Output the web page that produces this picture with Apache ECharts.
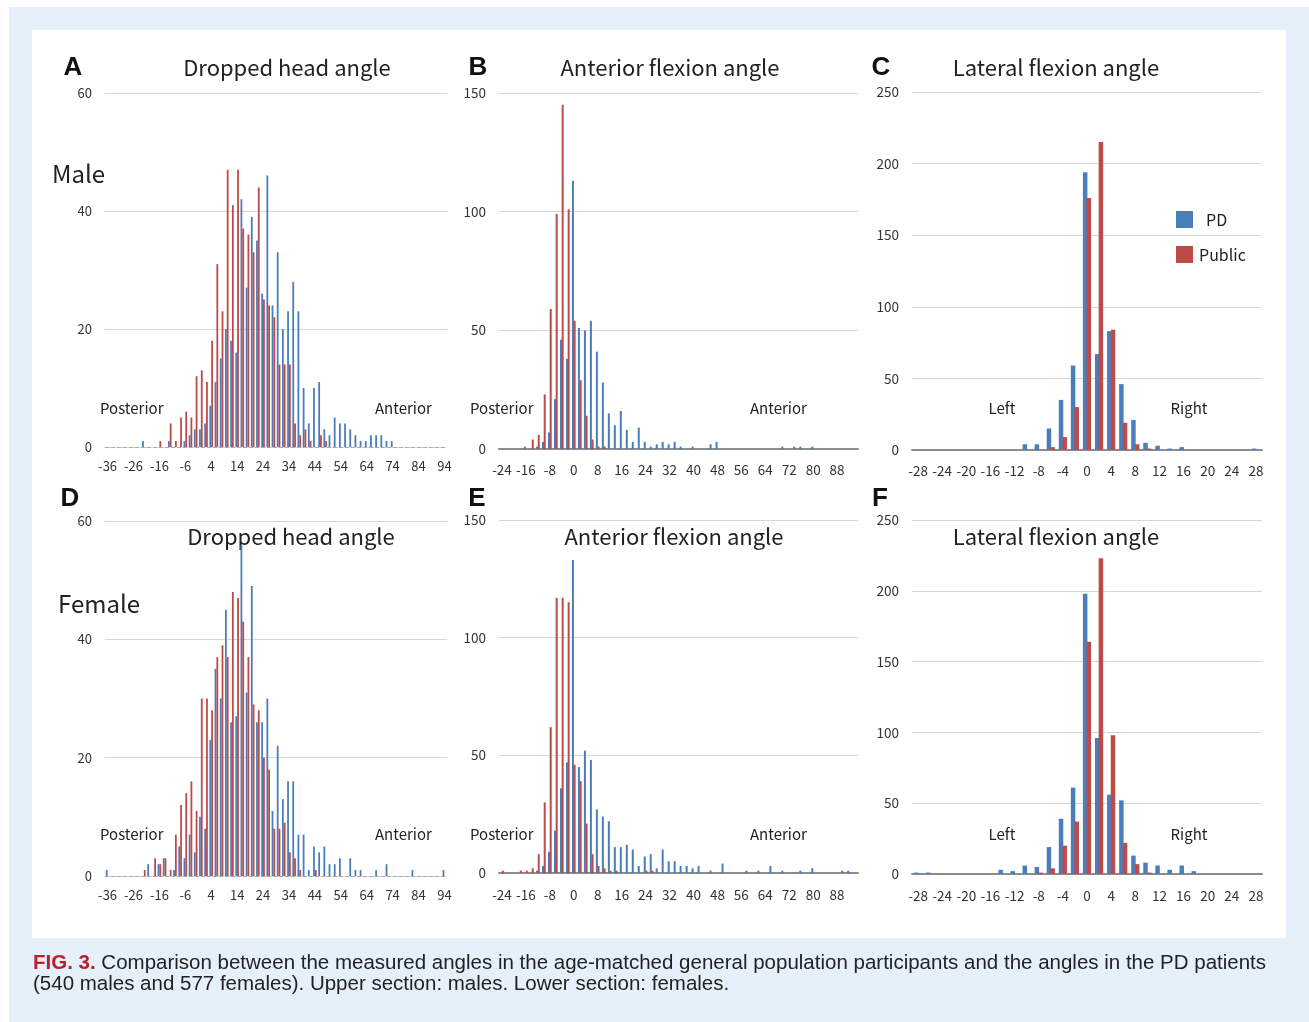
<!DOCTYPE html>
<html>
<head>
<meta charset="utf-8">
<title>FIG. 3</title>
<script src="https://cdn.jsdelivr.net/npm/echarts@6/dist/echarts.min.js"></script>
<style>
  html, body { margin: 0; padding: 0; background: #fff; }
  .page { position: relative; width: 1309px; height: 1022px; overflow: hidden; }
  .bg { position: absolute; left: 9px; top: 7px; right: 0; bottom: 0; background: #e6f0fa; }
  .panel { position: absolute; left: 32px; top: 30px; width: 1254px; height: 908px; background: #fff; }
  #chart { position: absolute; left: 0; top: 0; width: 1309px; height: 1022px; }
  .caption { position: absolute; left: 33px; top: 951px; font: 20.5px "Liberation Sans", Arial, sans-serif; line-height: 21px; color: #222; white-space: nowrap; }
  .caption .fig { color: #b8202f; font-weight: bold; }
</style>
</head>
<body>
<div class="page">
  <div class="bg"></div>
  <div class="panel"></div>
  <div id="chart"></div>
  <div class="caption"><span class="fig">FIG. 3.</span> Comparison between the measured angles in the age-matched general population participants and the angles in the PD patients<br>(540 males and 577 females). Upper section: males. Lower section: females.</div>
</div>
<script>
// 分组 (每组 2 度)
var catHead = [-36,-34,-32,-30,-28,-26,-24,-22,-20,-18,-16,-14,-12,-10,-8,-6,-4,-2,0,2,4,6,8,10,12,14,16,18,20,22,24,26,28,30,32,34,36,38,40,42,44,46,48,50,52,54,56,58,60,62,64,66,68,70,72,74,76,78,80,82,84,86,88,90,92,94];
var catFlex = [-24,-22,-20,-18,-16,-14,-12,-10,-8,-6,-4,-2,0,2,4,6,8,10,12,14,16,18,20,22,24,26,28,30,32,34,36,38,40,42,44,46,48,50,52,54,56,58,60,62,64,66,68,70,72,74,76,78,80,82,84,86,88,90,92,94];
var catLat = [-28,-26,-24,-22,-20,-18,-16,-14,-12,-10,-8,-6,-4,-2,0,2,4,6,8,10,12,14,16,18,20,22,24,26,28];

// 男性
var pdHeadMale  = [0,0,0,0,0,0,0,1,0,0, 0,0,1,0,0,1,2,3,3,4, 7,11,15,20,18,16,42,27,39,35, 26,46,24,33,20,23,28,23,10,4, 10,11,3,2,5,4,4,3,2,1, 1,2,2,2,1,1,0,0,0,0, 0,0,0,0,0,0];
var pubHeadMale = [0,0,0,0,0,0,0,0,0,0, 1,0,4,1,5,6,5,12,13,11, 18,31,23,47,41,47,37,36,33,44, 25,24,22,14,14,14,4,2,3,1, 0,2,1,0,0,0,0,0,0,0, 0,0,0,0,0,0,0,0,0,0, 0,0,0,0,0,0];
var pdFlexMale  = [0,0,0,0,1,0,1,3,7,21, 46,38,113,51,50,54,41,28,15,10, 16,8,3,9,3,1,2,3,2,3, 1,0,1,0,0,2,3,0,0,0, 0,0,0,0,0,0,0,1,0,1, 1,0,1,0,0,0,0,0,0,0];
var pubFlexMale = [0,0,0,0,0,4,6,23,59,99, 145,101,54,29,14,4,1,1,0,0, 0,0,0,0,0,0,0,0,0,0, 0,0,0,0,0,0,0,0,0,0, 0,0,0,0,0,0,0,0,0,0, 0,0,0,0,0,0,0,0,0,0];
var pdLatMale   = [0,0,0,0,0,0,0,0,0,4, 4,15,35,59,194,67,83,46,21,5, 3,1,2,0,0,0,0,0,1];
var pubLatMale  = [0,0,0,0,0,0,0,0,0,0, 0,2,9,30,176,215,84,19,4,1, 0,0,0,0,0,0,0,0,0];

// 女性
var pdHeadFemale  = [1,0,0,0,0,0,0,0,2,0, 2,3,0,1,5,3,7,4,10,8, 23,35,30,45,26,27,56,31,49,26, 26,30,11,22,13,16,16,7,7,1, 5,4,5,2,2,3,0,3,1,1, 0,0,1,0,2,0,0,0,0,1, 0,0,0,0,0,1];
var pubHeadFemale = [0,0,0,0,0,0,0,1,0,3, 2,3,1,7,12,14,16,11,30,30, 28,37,39,37,48,47,43,37,29,28, 20,18,8,8,9,4,3,1,0,0, 1,0,0,0,0,0,0,0,0,0, 0,0,0,0,0,0,0,0,0,0, 0,0,0,0,0,0];
var pdFlexFemale  = [0,0,0,0,0,0,1,3,9,18, 36,47,133,45,52,48,27,24,22,11, 11,12,10,3,7,8,2,10,5,5, 3,3,2,3,0,1,0,4,0,0, 0,1,0,1,0,3,0,1,0,0, 1,0,2,0,0,0,0,1,1,0];
var pubFlexFemale = [1,0,0,1,1,2,8,30,62,117, 117,115,46,39,21,8,3,2,1,1, 0,0,0,0,1,1,0,0,0,0, 0,0,0,0,0,0,0,0,0,0, 0,0,0,0,0,0,0,0,0,0, 0,0,0,0,0,0,0,0,0,0];
var pdLatFemale   = [1,1,0,0,0,0,0,3,2,6, 5,19,39,61,198,96,56,52,13,8, 6,3,6,2,0,0,0,0,0];
var pubLatFemale  = [0,0,0,0,0,0,0,0,0,0, 1,4,20,37,164,223,98,22,7,1, 0,0,0,0,0,0,0,0,0];

var BLUE = '#4a7ebb';
var RED = '#be4b48';
var FONT = '"Noto Sans CJK JP", "Noto Sans", sans-serif';

// 六个面板
var panels = [
    {grid: {left: 105, top: 93, width: 342, height: 354}, cats: catHead, pd: pdHeadMale, pub: pubHeadMale, max: 60, step: 20, every: 4, bw: 1.8, gap: '0%', dashed: true, fs: 13, xm: 13},
    {grid: {left: 499, top: 93, width: 359, height: 356}, cats: catFlex, pd: pdFlexMale, pub: pubFlexMale, max: 150, step: 50, every: 3, bw: 2, gap: '-15%', fs: 13.5, xm: 14},
    {grid: {left: 912, top: 92, width: 350, height: 358}, cats: catLat, pd: pdLatMale, pub: pubLatMale, max: 250, step: 50, every: 1, bw: 4.5, gap: '-18%', fs: 13.5, xm: 14},
    {grid: {left: 105, top: 521, width: 342, height: 355}, cats: catHead, pd: pdHeadFemale, pub: pubHeadFemale, max: 60, step: 20, every: 4, bw: 1.8, gap: '0%', dashed: true, fs: 13, xm: 13},
    {grid: {left: 499, top: 520, width: 359, height: 353}, cats: catFlex, pd: pdFlexFemale, pub: pubFlexFemale, max: 150, step: 50, every: 3, bw: 2, gap: '-15%', fs: 13.5, xm: 15},
    {grid: {left: 912, top: 520, width: 350, height: 354}, cats: catLat, pd: pdLatFemale, pub: pubLatFemale, max: 250, step: 50, every: 1, bw: 4.5, gap: '-18%', fs: 13.5, xm: 15}
];

var grids = [], xAxes = [], yAxes = [], series = [];
panels.forEach(function (p, i) {
    grids.push({left: p.grid.left, top: p.grid.top, width: p.grid.width, height: p.grid.height, containLabel: false});
    xAxes.push({
        type: 'category',
        gridIndex: i,
        data: p.cats.map(String),
        axisTick: {show: false},
        axisLine: {lineStyle: p.dashed ? {color: '#aaa', type: 'dashed', width: 1} : {color: '#8c8c8c', width: 2}},
        axisLabel: {interval: p.every, color: '#333', fontSize: p.fs, fontFamily: FONT, margin: p.xm}
    });
    yAxes.push({
        type: 'value',
        gridIndex: i,
        min: 0,
        max: p.max,
        interval: p.step,
        axisLine: {show: false},
        axisTick: {show: false},
        splitLine: {showMinLine: false, lineStyle: {color: '#d6d6d6', width: 1}},
        axisLabel: {color: '#333', fontSize: p.fs, fontFamily: FONT, margin: 13}
    });
    series.push({
        name: 'PD', type: 'bar', xAxisIndex: i, yAxisIndex: i, data: p.pd,
        barWidth: p.bw, barGap: p.gap, itemStyle: {color: BLUE}
    });
    series.push({
        name: 'Public', type: 'bar', xAxisIndex: i, yAxisIndex: i, data: p.pub,
        barWidth: p.bw, barGap: p.gap, itemStyle: {color: RED}
    });
});

// 文字
function txt(x, y, text, font, align, color) {
    return {
        type: 'text', x: x, y: y, silent: true,
        style: {
            text: text, font: font, fill: color || '#222',
            align: align || 'center', verticalAlign: 'middle',
            textAlign: align || 'center', textVerticalAlign: 'middle'
        }
    };
}
var letterFont = 'bold 26px "Liberation Sans", Arial, sans-serif';
var titleFont = '22px ' + FONT;
var sideFont = '15px ' + FONT;

var graphics = [
    txt(73, 68, 'A', letterFont, 'center', '#111'),
    txt(478, 68, 'B', letterFont, 'center', '#111'),
    txt(881, 68, 'C', letterFont, 'center', '#111'),
    txt(70, 499, 'D', letterFont, 'center', '#111'),
    txt(477, 499, 'E', letterFont, 'center', '#111'),
    txt(880, 499, 'F', letterFont, 'center', '#111'),

    txt(287, 68, 'Dropped head angle', titleFont),
    txt(670, 68, 'Anterior flexion angle', titleFont),
    txt(1056, 68, 'Lateral flexion angle', titleFont),
    txt(291, 537, 'Dropped head angle', titleFont),
    txt(674, 537, 'Anterior flexion angle', titleFont),
    txt(1056, 537, 'Lateral flexion angle', titleFont),

    txt(52, 174, 'Male', '24px ' + FONT, 'left'),
    txt(58, 604, 'Female', '24px ' + FONT, 'left'),

    txt(100, 408, 'Posterior', sideFont, 'left'),
    txt(375, 408, 'Anterior', sideFont, 'left'),
    txt(470, 408, 'Posterior', sideFont, 'left'),
    txt(750, 408, 'Anterior', sideFont, 'left'),
    txt(1002, 408, 'Left', sideFont),
    txt(1189, 408, 'Right', sideFont),
    txt(100, 834, 'Posterior', sideFont, 'left'),
    txt(375, 834, 'Anterior', sideFont, 'left'),
    txt(470, 834, 'Posterior', sideFont, 'left'),
    txt(750, 834, 'Anterior', sideFont, 'left'),
    txt(1002, 834, 'Left', sideFont),
    txt(1189, 834, 'Right', sideFont),

    // 图例
    {type: 'rect', shape: {x: 1176, y: 211, width: 17, height: 17}, style: {fill: BLUE}},
    {type: 'rect', shape: {x: 1176, y: 246, width: 17, height: 17}, style: {fill: RED}},
    txt(1206, 220, 'PD', '16px ' + FONT, 'left'),
    txt(1199, 255, 'Public', '16px ' + FONT, 'left')
];

var chart = echarts.init(document.getElementById('chart'));
chart.setOption({
    animation: false,
    backgroundColor: 'transparent',
    grid: grids,
    xAxis: xAxes,
    yAxis: yAxes,
    series: series,
    graphic: graphics
});
</script>
</body>
</html>
